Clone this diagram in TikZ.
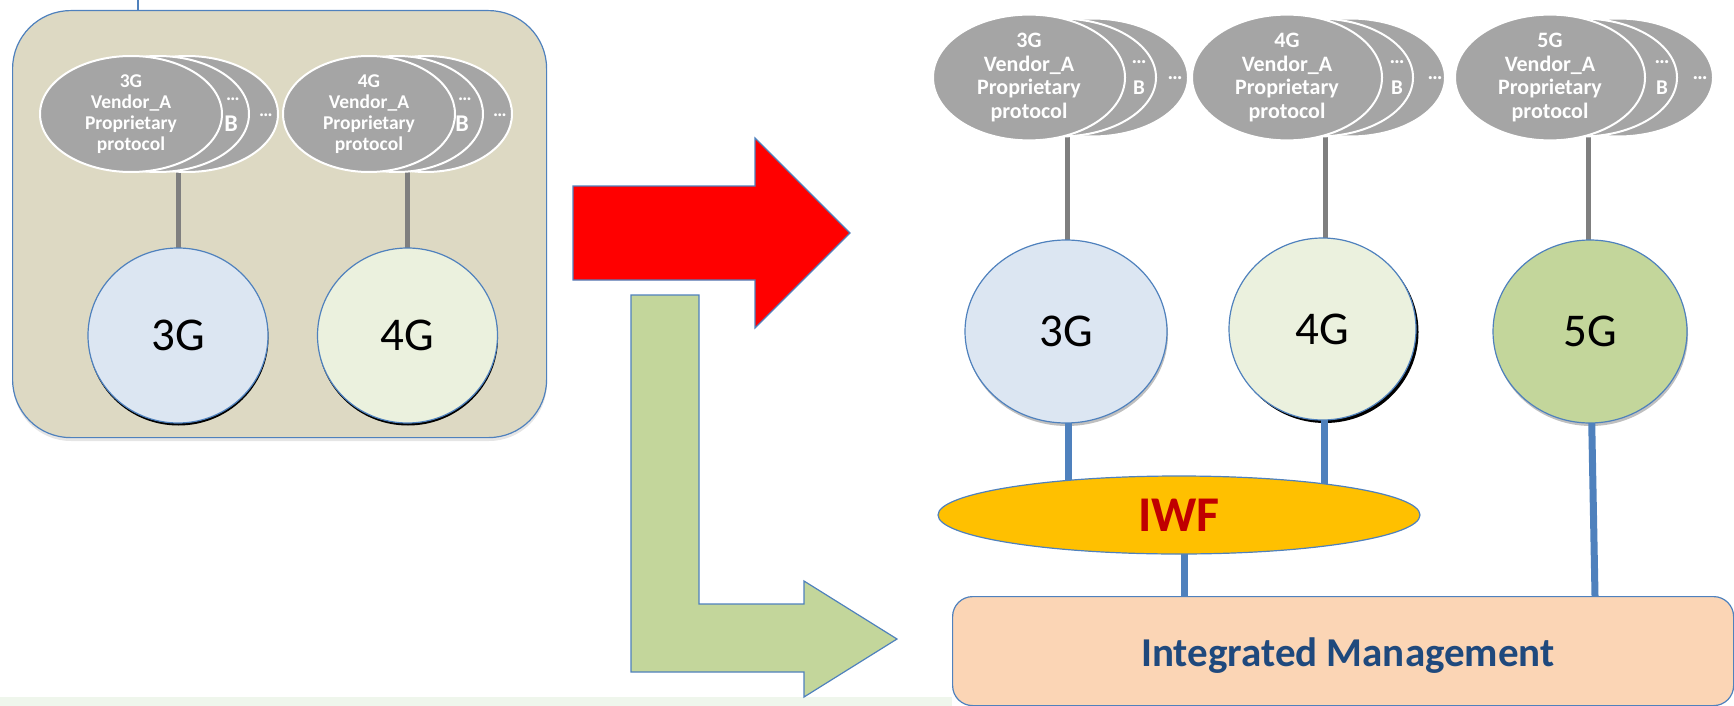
\documentclass[tikz,border=0pt]{standalone}
\usepackage{fontspec}
\setmainfont{Carlito}
\usetikzlibrary{shapes.geometric}
\pgfdeclarelayer{bg}
\pgfdeclarelayer{conn}
\pgfsetlayers{bg,conn,main}
\definecolor{boxtan}{HTML}{DDD9C3}
\definecolor{edgeblue}{HTML}{4F81BD}
\definecolor{protogray}{HTML}{A5A5A5}
\definecolor{linegray}{HTML}{7F7F7F}
\definecolor{cthree}{HTML}{DCE6F2}
\definecolor{cfour}{HTML}{EBF1DE}
\definecolor{cfive}{HTML}{C3D69B}
\definecolor{iwfgold}{HTML}{FFC000}
\definecolor{iwfred}{HTML}{C00000}
\definecolor{impeach}{HTML}{FBD5B5}
\definecolor{imblue}{HTML}{1F497D}
\definecolor{arrowgreen}{HTML}{C3D69B}
\definecolor{bandgreen}{HTML}{EFF6EC}
\begin{document}
\begin{tikzpicture}[x=1pt,y=-1pt,
  proto/.style={ellipse, fill=protogray, draw=white, line width=2pt, inner sep=0pt, text=white, align=center},
  lproto/.style={proto, minimum height=116pt, font=\bfseries\fontsize{19.5}{21}\selectfont},
  rproto/.style={proto, minimum height=118pt, font=\bfseries\fontsize{22}{23.7}\selectfont},
  lmark/.style={text=white, inner sep=0pt, font=\bfseries\fontsize{19}{21}\selectfont},
  lmarkb/.style={text=white, inner sep=0pt, font=\bfseries\fontsize{24}{26}\selectfont},
  rmark/.style={text=white, inner sep=0pt, font=\bfseries\fontsize{21}{24}\selectfont},
  gen/.style={ellipse, draw=edgeblue, line width=1.2pt, inner sep=0pt, font=\fontsize{47}{52}\selectfont},
  graylink/.style={draw=linegray, line width=5pt},
  bluelink/.style={draw=edgeblue, line width=7pt},
  bigarrow/.style={draw=edgeblue, line width=1.2pt, line join=miter}
]
\useasboundingbox (0,0) rectangle (1734,706);
\fill[bandgreen] (0,697) rectangle (952,706);

% ---------- left box and shadows ----------
\begin{pgfonlayer}{bg}
  \fill[black!10, rounded corners=58pt] (13,13) rectangle (547,441);
  \node[draw=edgeblue, fill=boxtan, line width=1.2pt, rounded corners=58pt,
        minimum width=534pt, minimum height=427pt, inner sep=0pt, anchor=north west] (leftbox) at (12,10) {};
  \fill[black] (178.5,338) ellipse [x radius=90pt, y radius=87.5pt];
  \fill[black] (408,338) ellipse [x radius=90pt, y radius=87.5pt];
  \fill[black!25] (1067,334.5) ellipse [x radius=101pt, y radius=91.5pt];
  \fill[black] (1325,332) ellipse [x radius=93.5pt, y radius=91pt];
  \fill[black!25] (1591,334.5) ellipse [x radius=97pt, y radius=91.5pt];
\end{pgfonlayer}
\coordinate (topfree) at (138,0);

% ---------- left protocol stacks ----------
\node[lproto, minimum width=182pt] (l3c) at (187,114) {};
\node[lproto, minimum width=182pt] (l3b) at (158,114) {};
\node[lproto, minimum width=182pt] (l3a) at (131,114) {3G\\Vendor\_A\\Proprietary\\protocol};
\node[lmark] (l3bdots) at (233,99) {…};
\node[lmarkb] (l3bB) at (231,124) {B};
\node[lmark] (l3cdots) at (266,115) {…};

\node[lproto, minimum width=172pt] (l4c) at (426,114) {};
\node[lproto, minimum width=172pt] (l4b) at (397,114) {};
\node[lproto, minimum width=172pt] (l4a) at (369,114) {4G\\Vendor\_A\\Proprietary\\protocol};
\node[lmark] (l4bdots) at (465,99) {…};
\node[lmarkb] (l4bB) at (462,124) {B};
\node[lmark] (l4cdots) at (500,115) {…};

% ---------- left generation circles ----------
\node[gen, fill=cthree, minimum width=180pt, minimum height=175pt] (l3g) at (178,335.5) {3G};
\node[gen, fill=cfour, minimum width=180pt, minimum height=175pt] (l4g) at (407.5,335.5) {4G};

% ---------- right protocol stacks ----------
\node[rproto, minimum width=192pt] (r3c) at (1092,77.5) {};
\node[rproto, minimum width=192pt] (r3b) at (1060,77.5) {};
\node[rproto, minimum width=192pt] (r3a) at (1029,77.5) {3G\\Vendor\_A\\Proprietary\\protocol};
\node[rmark] (r3bdots) at (1139,62) {…};
\node[rmark] (r3bB) at (1139,88) {B};
\node[rmark] (r3cdots) at (1175,78) {…};

\node[rproto, minimum width=190pt] (r4c) at (1350,77.5) {};
\node[rproto, minimum width=190pt] (r4b) at (1318,77.5) {};
\node[rproto, minimum width=190pt] (r4a) at (1287,77.5) {4G\\Vendor\_A\\Proprietary\\protocol};
\node[rmark] (r4bdots) at (1397,62) {…};
\node[rmark] (r4bB) at (1397,88) {B};
\node[rmark] (r4cdots) at (1435,78) {…};

\node[rproto, minimum width=190pt] (r5c) at (1618,77.5) {};
\node[rproto, minimum width=190pt] (r5b) at (1582,77.5) {};
\node[rproto, minimum width=190pt] (r5a) at (1550,77.5) {5G\\Vendor\_A\\Proprietary\\protocol};
\node[rmark] (r5bdots) at (1662,62) {…};
\node[rmark] (r5bB) at (1662,88) {B};
\node[rmark] (r5cdots) at (1700,78) {…};

% ---------- right generation circles ----------
\node[gen, fill=cthree, minimum width=202pt, minimum height=183pt] (r3g) at (1066,331.5) {3G};
\node[gen, fill=cfour, minimum width=187pt, minimum height=182pt] (r4g) at (1322.5,329) {4G};
\node[gen, fill=cfive, minimum width=194pt, minimum height=183pt] (r5g) at (1590,331.5) {5G};

% ---------- IWF and integrated management ----------
\node[ellipse, fill=iwfgold, draw=edgeblue, line width=1.2pt, inner sep=0pt,
      minimum width=482pt, minimum height=78pt, text=iwfred,
      font=\bfseries\fontsize{50}{54}\selectfont] (iwf) at (1179,515) {IWF};
\node[draw=edgeblue, fill=impeach, line width=1.2pt, rounded corners=20pt, inner sep=0pt,
      minimum width=781pt, minimum height=109pt, anchor=north west] (im) at (952,596) {};
\node[anchor=base, inner sep=0pt, text=imblue, font=\bfseries\fontsize{41}{46}\selectfont] (imtext) at (1348,666) {Integrated Management};

% ---------- connectors ----------
\begin{pgfonlayer}{conn}
  \draw[edgeblue, line width=1.2pt] (topfree) -- (topfree |- leftbox.north);
  \draw[graylink] (l3g.center |- l3c.center) -- (l3g.center);
  \draw[graylink] (l4g.center |- l4c.center) -- (l4g.center);
  \draw[graylink] ([xshift=1pt]r3g.center |- r3b.center) -- ([xshift=1pt]r3g.center);
  \draw[graylink] ([xshift=2.5pt]r4g.center |- r4b.center) -- ([xshift=2.5pt]r4g.center);
  \draw[graylink] ([xshift=-2pt]r5g.center |- r5b.center) -- ([xshift=-2pt]r5g.center);
  \draw[bluelink] ([xshift=2pt]r3g.center) -- ([xshift=2pt]r3g.center |- iwf.center);
  \draw[bluelink] ([xshift=1.5pt]r4g.center) -- ([xshift=1.5pt]r4g.center |- iwf.center);
  \draw[bluelink] ([xshift=5pt]iwf.center) -- ([xshift=5pt]iwf.center |- im.center);
  \draw[bluelink] (r5g.center) -- ([xshift=5pt]r5g.center |- im.north);
\end{pgfonlayer}

% ---------- big arrows ----------
\draw[bigarrow, fill=red] (573,186) -- (755,186) -- (755,138) -- (850,233) -- (755,328) -- (755,280) -- (573,280) -- cycle;
\draw[bigarrow, fill=arrowgreen] (631,295) -- (699,295) -- (699,604) -- (804,604) -- (804,581) -- (897,639) -- (804,697) -- (804,672) -- (631,672) -- cycle;
\end{tikzpicture}
\end{document}
